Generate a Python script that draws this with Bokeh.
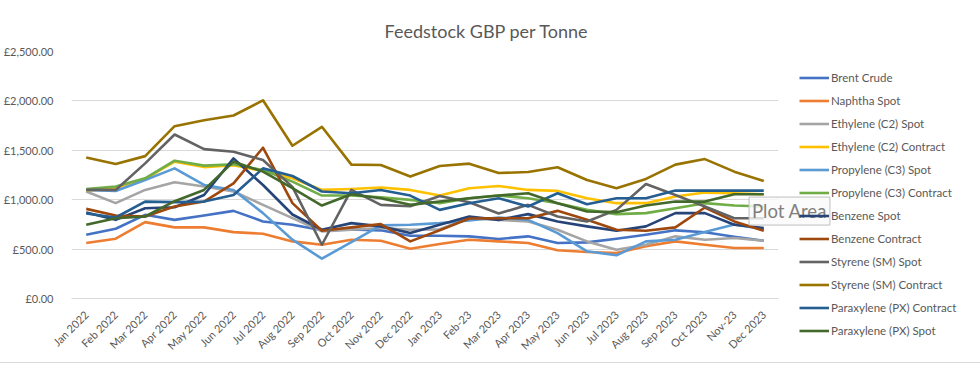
from math import pi
from bokeh.plotting import figure
from bokeh.models import (FactorRange, Range1d, FixedTicker, Legend, LegendItem, Label, Title)
from bokeh.embed import file_html
from bokeh.resources import INLINE

months = ["Jan 2022", "Feb 2022", "Mar 2022", "Apr 2022", "May 2022", "Jun 2022",
          "Jul 2022", "Aug 2022", "Sep 2022", "Oct 2022", "Nov 2022", "Dec 2022",
          "Jan 2023", "Feb-23", "Mar 2023", "Apr 2023", "May 2023", "Jun 2023",
          "Jul 2023", "Aug 2023", "Sep 2023", "Oct 2023", "Nov-23", "Dec 2023"]

brent_crude = [645, 706, 847, 796, 840, 887, 780, 746, 690, 700, 690, 635,
               635, 629, 602, 629, 561, 568, 605, 645, 690, 670, 625, 585]
naphtha_spot = [561, 605, 773, 720, 720, 672, 655, 578, 544, 595, 585, 504,
                551, 595, 578, 561, 488, 471, 461, 528, 578, 544, 511, 511]
ethylene_spot = [1083, 965, 1099, 1176, 1133, 1083, 948, 813, 679, 696, 713, 696,
                 700, 813, 796, 780, 696, 578, 494, 544, 629, 595, 612, 585]
ethylene_contract = [1090, 1120, 1210, 1385, 1330, 1350, 1290, 1217, 1099, 1109, 1123, 1099,
                     1042, 1116, 1139, 1099, 1089, 1015, 965, 965, 1032, 1072, 1065, 1055]
propylene_spot = [1099, 1089, 1200, 1317, 1149, 1099, 864, 595, 403, 571, 740, 746,
                  763, 790, 820, 796, 662, 478, 437, 578, 595, 672, 750, 700]
propylene_contract = [1109, 1133, 1217, 1395, 1345, 1358, 1300, 1183, 1042, 1042, 1025, 998,
                      965, 1015, 1042, 1015, 965, 897, 854, 864, 914, 965, 941, 931]
benzene_spot = [871, 796, 914, 924, 1048, 1418, 1149, 850, 696, 763, 730, 662,
                746, 830, 796, 854, 780, 730, 686, 730, 864, 864, 746, 713]
benzene_contract = [907, 840, 830, 931, 981, 1166, 1526, 965, 686, 720, 753, 578,
                    690, 810, 813, 813, 887, 796, 696, 686, 720, 921, 780, 686]
styrene_spot = [1099, 1099, 1368, 1660, 1512, 1486, 1401, 1130, 544, 1099, 948, 934,
                1038, 975, 860, 948, 830, 780, 897, 1159, 1048, 931, 813, 813]
styrene_contract = [1428, 1361, 1441, 1744, 1804, 1852, 2006, 1546, 1738, 1355, 1351, 1234,
                    1341, 1365, 1270, 1280, 1328, 1200, 1116, 1210, 1355, 1411, 1284, 1190]
px_contract = [860, 820, 981, 975, 981, 1048, 1317, 1240, 1083, 1065, 1099, 1042,
               897, 965, 1015, 931, 1065, 954, 1015, 1015, 1092, 1092, 1092, 1092]
px_spot = [746, 813, 830, 985, 1099, 1385, 1284, 1116, 941, 1055, 1015, 948,
           981, 1015, 1042, 1065, 965, 881, 874, 941, 981, 981, 1055, 1055]

series_names = ["Brent Crude", "Naphtha Spot", "Ethylene (C2) Spot", "Ethylene (C2) Contract",
                "Propylene (C3) Spot", "Propylene (C3) Contract", "Benzene Spot",
                "Benzene Contract", "Styrene (SM) Spot", "Styrene (SM) Contract",
                "Paraxylene (PX) Contract", "Paraxylene (PX) Spot"]
series_values = [brent_crude, naphtha_spot, ethylene_spot, ethylene_contract,
                 propylene_spot, propylene_contract, benzene_spot, benzene_contract,
                 styrene_spot, styrene_contract, px_contract, px_spot]
series_colors = ["#4472C4", "#ED7D31", "#A5A5A5", "#FFC000", "#5B9BD5", "#70AD47",
                 "#264478", "#9E480E", "#636363", "#997300", "#255E91", "#43682B"]

y_ticks = [0, 500, 1000, 1500, 2000, 2500]
y_tick_labels = ["£0.00", "£500.00", "£1,000.00", "£1,500.00", "£2,000.00", "£2,500.00"]

FONT = "Lato"
TXT = "#595959"

p = figure(x_range=FactorRange(*months), y_range=Range1d(0, 2500),
           width=964, height=362, frame_width=707, frame_height=247,
           min_border_left=66, min_border_right=191, min_border_top=51, min_border_bottom=64,
           output_backend="svg", toolbar_location=None, title=None)
p.outline_line_color = None
p.background_fill_color = "white"
p.border_fill_color = "white"
p.styles = {"outline": "1px solid #d9d9d9"}

p.xgrid.grid_line_color = None
p.ygrid.grid_line_color = "#d9d9d9"
p.ygrid.grid_line_width = 1

p.yaxis.ticker = FixedTicker(ticks=y_ticks)
p.yaxis.major_label_overrides = {t: l for t, l in zip(y_ticks, y_tick_labels)}
p.yaxis.axis_line_color = None
p.yaxis.major_tick_line_color = None
p.yaxis.minor_tick_line_color = None
p.yaxis.major_label_standoff = 12

p.xaxis.axis_line_color = "#d9d9d9"
p.xaxis.major_tick_line_color = None
p.xaxis.minor_tick_line_color = None
p.xaxis.major_label_orientation = pi / 4
p.xaxis.major_label_standoff = 8

for ax in (p.xaxis, p.yaxis):
    ax.major_label_text_font = FONT
    ax.major_label_text_font_size = "11px"
    ax.major_label_text_color = TXT

items = []
for name, vals, col in zip(series_names, series_values, series_colors):
    r = p.line(months, vals, line_color=col, line_width=2.6, line_join="round")
    items.append(LegendItem(label=name, renderers=[r]))

legend = Legend(items=items, location=(21, -44), orientation="vertical",
                glyph_width=30, glyph_height=23, label_height=23, spacing=0,
                label_standoff=2, padding=0, margin=0,
                border_line_color=None, background_fill_alpha=0,
                label_text_font=FONT, label_text_font_size="11.5px", label_text_color=TXT)
p.add_layout(legend, "right")

# hover tooltip visible in the screenshot, anchored in data space
tip = Label(x=23.0, y=885, x_units="data", y_units="data", text="Plot Area",
            text_align="left", text_baseline="middle", text_font=FONT,
            text_font_size="18.5px", text_color="#7f7f7f",
            background_fill_color="#fafafa", background_fill_alpha=0.8,
            border_line_color="#bfbfbf", padding=3)
p.add_layout(tip, "right")

title = Title(text="Feedstock GBP per Tonne", align="left", offset=313,
              text_font=FONT, text_font_size="18px", text_font_style="normal",
              text_color=TXT, standoff=19)
p.add_layout(title, "above")

open("out.html", "w").write(file_html(p, INLINE))
